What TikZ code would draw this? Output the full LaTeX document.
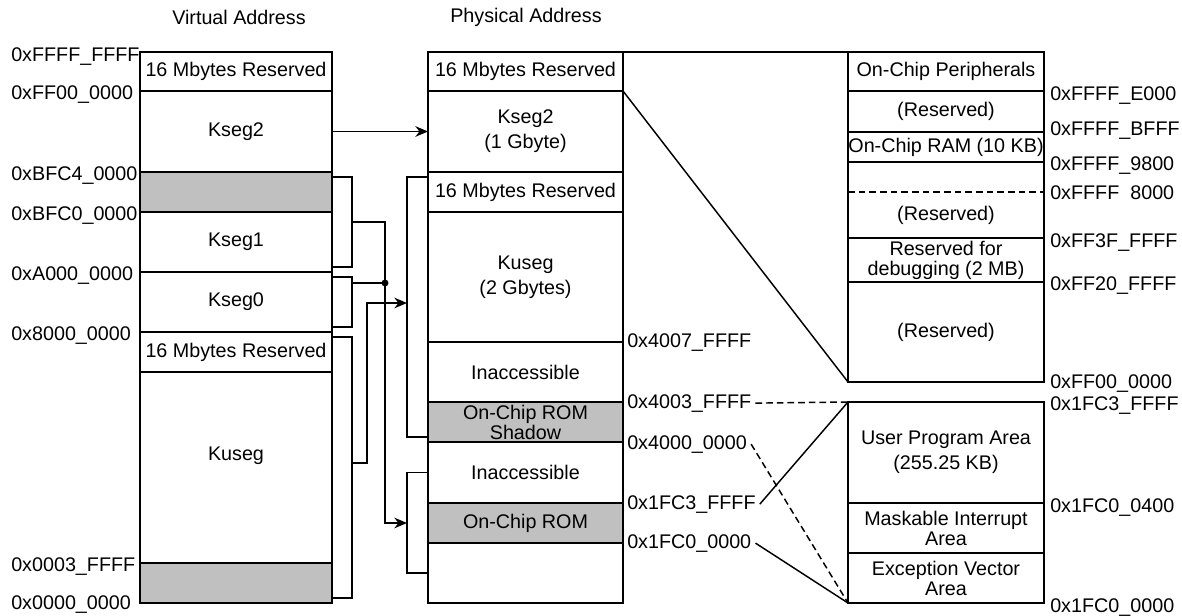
\documentclass[tikz,border=0pt]{standalone}
\usepackage{fontspec}
\setmainfont{Liberation Sans}
\usetikzlibrary{
    arrows.meta,
    calc
}
\definecolor{romgray}{RGB}{192,192,192}

\begin{document}
\begin{tikzpicture}[
    x=0.75pt, y=-0.75pt,
    every node/.style={font=\fontsize{14.8pt}{15pt}\selectfont},
    cell/.style={
        draw=black,
        line width=1.1pt,
        rectangle,
        inner sep=0pt,
        outer sep=0pt,
        align=center
    },
    vcell/.style={cell, minimum width=144pt},
    pcell/.style={cell, minimum width=146.25pt},
    rcell/.style={cell, minimum width=147pt},
    shaded/.style={fill=romgray},
    addr/.style={anchor=base west, inner sep=0pt, yshift=-5.3pt},
    link/.style={line width=1.1pt},
    arrow/.style={link, -{Stealth[length=9.5pt, width=8pt]}},
    memdash/.style={link, dash pattern=on 5pt off 3pt}
]
\useasboundingbox (0,0) rectangle (1182,616);

% Titles
\node (vtitle) at (239,17) {Virtual Address};
\node (ptitle) at (526,17) {Physical Address};

% ===== Virtual address map =====
\node[vcell, minimum height=29.25pt] (vres1) at (236,71.5) {16 Mbytes Reserved};
\node[vcell, minimum height=60.75pt] (vkseg2) at (236,131.5) {Kseg2};
\node[vcell, shaded, minimum height=30pt] (vrom) at (236,192) {};
\node[vcell, minimum height=45pt] (vkseg1) at (236,242) {Kseg1};
\node[vcell, minimum height=45pt] (vkseg0) at (236,302) {Kseg0};
\node[vcell, minimum height=30pt] (vres2) at (236,352) {16 Mbytes Reserved};
\node[vcell, minimum height=143.25pt] (vkuseg) at (236,467.5) {};
\node (vkusegtxt) at (236,456) {Kuseg};
\node[vcell, shaded, minimum height=30pt] (vram) at (236,583) {};

% Virtual addresses
\node[addr] (vaFFFF) at (11,54) {0xFFFF\_FFFF};
\node[addr] (vaFF00) at (11,92) {0xFF00\_0000};
\node[addr] (vaBFC4) at (11,173) {0xBFC4\_0000};
\node[addr] (vaBFC0) at (11,213) {0xBFC0\_0000};
\node[addr] (vaA000) at (11,273) {0xA000\_0000};
\node[addr] (va8000) at (11,333) {0x8000\_0000};
\node[addr] (va0003) at (11,564) {0x0003\_FFFF};
\node[addr] (va0000) at (11,602) {0x0000\_0000};

% ===== Physical address map =====
\node[pcell, minimum height=29.25pt] (pres1) at (525.5,71.5) {16 Mbytes Reserved};
\node[pcell, minimum height=60.75pt] (pkseg2) at (525.5,131.5) {Kseg2\\[3.75pt](1 Gbyte)};
\node[pcell, minimum height=30pt] (pres2) at (525.5,192) {16 Mbytes Reserved};
\node[pcell, minimum height=97.5pt] (pkuseg) at (525.5,277) {Kuseg\\[3.75pt](2 Gbytes)};
\node[pcell, minimum height=45pt] (pinacc1) at (525.5,372) {Inaccessible};
\node[pcell, shaded, minimum height=30pt] (pshadow) at (525.5,422) {On-Chip ROM\\Shadow};
\node[pcell, minimum height=45.75pt] (pinacc2) at (525.5,472.5) {Inaccessible};
\node[pcell, shaded, minimum height=30pt] (prom) at (525.5,523) {On-Chip ROM};
\node[pcell, minimum height=45pt] (pfree) at (525.5,573) {};

% Physical addresses
\node[addr] (pa4007) at (627,340) {0x4007\_FFFF};
\node[addr] (pa4003) at (627,401) {0x4003\_FFFF};
\node[addr] (pa4000) at (627,442) {0x4000\_0000};
\node[addr] (pa1FC3) at (627,502) {0x1FC3\_FFFF};
\node[addr] (pa1FC0) at (627,541) {0x1FC0\_0000};

% ===== Kseg2 detail =====
\node[rcell, minimum height=29.25pt] (periph) at (946,71.5) {On-Chip Peripherals};
\node[rcell, minimum height=30.75pt] (rres1) at (946,111.5) {(Reserved)};
\node[rcell, minimum height=22.5pt] (ram) at (946,147) {On-Chip RAM (10 KB)};
\node[rcell, minimum height=57pt] (rres2) at (946,200) {};
\node (rres2txt) at (946,215) {(Reserved)};
\node[rcell, minimum height=33pt] (rdebug) at (946,260) {Reserved for\\debugging (2 MB)};
\node[rcell, minimum height=75pt] (rres3) at (946,332) {(Reserved)};
\draw[memdash] ($(rres2.north west)+(0,30)$) -- ($(rres2.north east)+(0,30)$);

\node[addr] (raE000) at (1050,93) {0xFFFF\_E000};
\node[addr] (raBFFF) at (1050,128) {0xFFFF\_BFFF};
\node[addr] (ra9800) at (1050,163) {0xFFFF\_9800};
\node[addr] (ra8000) at (1050,192) {0xFFFF\hspace{0.556em}8000};
\node[addr] (raFF3F) at (1050,240) {0xFF3F\_FFFF};
\node[addr] (raFF20) at (1050,283) {0xFF20\_FFFF};
\node[addr] (raFF00) at (1050,381) {0xFF00\_0000};

% ===== On-chip ROM detail =====
\node[rcell, minimum height=75.75pt] (upa) at (946,452.5) {User Program Area\\[3.75pt](255.25 KB)};
\node[rcell, minimum height=37.5pt] (mia) at (946,528) {Maskable Interrupt\\Area};
\node[rcell, minimum height=37.5pt] (eva) at (946,578) {Exception Vector\\Area};

\node[addr] (ra1FC3) at (1050,403) {0x1FC3\_FFFF};
\node[addr] (ra0400) at (1050,505) {0x1FC0\_0400};
\node[addr] (ra1FC0) at (1050,605) {0x1FC0\_0000};

% Virtual to physical
\coordinate (k1tap) at (352,222);
\coordinate (k0tap) at (352,283);
\coordinate (kutap) at (352,463);
\coordinate (bus) at (385,283);
\coordinate (shadin) at (407,303);
\coordinate (romin) at ($(prom.west)+(-21,0)$);

\draw[arrow] (vkseg2.east) -- (pkseg2.west);

\draw[link] ($(vrom.north east)+(0,5)$) -- ++(20,0) |- ($(vkseg1.south east)+(0,-5)$);
\draw[link] ($(vkseg0.north east)+(0,5)$) -- ++(20,0) |- ($(vkseg0.south east)+(0,-5)$);
\draw[link] ($(vres2.north east)+(0,5)$) -- ++(20,0) |- ($(vram.south east)+(0,-5)$);

\draw[link] ($(pres2.north west)+(0,5)$) -- ++(-21,0) |- ($(pshadow.south west)+(0,-5)$);
\draw[link] (pinacc2.west) -- ++(-21,0) |- (pfree.west);

\draw[arrow] (k1tap) -| (bus) |- (romin);
\draw[link] (k0tap) -- (bus);
\fill (bus) circle (2.6pt);
\draw[arrow] (kutap) -- ++(15,0) |- (shadin);

% Zoom lines
\draw[link] (pres1.north east) -- (periph.north west);
\draw[link] (pkseg2.north east) -- (rres3.south west);
\draw[memdash] ([xshift=3pt]pa4003.east) -- (upa.north west);
\draw[link] ([xshift=3pt]pa1FC3.east) -- (upa.north west);
\draw[memdash] ([xshift=3pt]pa4000.east) -- (eva.south west);
\draw[link] ([xshift=3pt]pa1FC0.east) -- (eva.south west);

\end{tikzpicture}
\end{document}
